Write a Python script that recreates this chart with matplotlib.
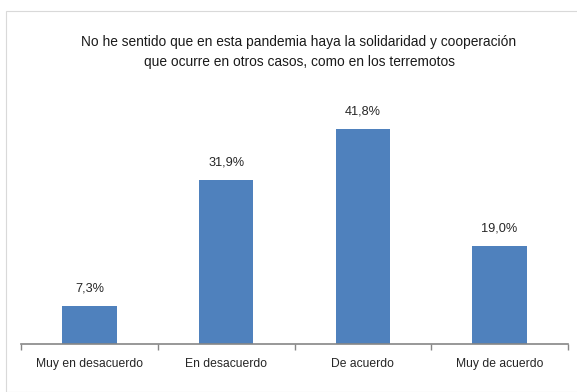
import matplotlib
matplotlib.use("Agg")
import matplotlib.pyplot as plt
from matplotlib.patches import Rectangle

categories = ["Muy en desacuerdo", "En desacuerdo", "De acuerdo", "Muy de acuerdo"]
values = [7.3, 31.9, 41.8, 19.0]
value_labels = ["7,3%", "31,9%", "41,8%", "19,0%"]
title = "No he sentido que en esta pandemia haya la solidaridad y cooperación\nque ocurre en otros casos, como en los terremotos"

plt.rcParams['font.family'] = ['Liberation Sans Narrow', 'Liberation Sans', 'DejaVu Sans']

W, H = 577, 392
fig = plt.figure(figsize=(W/100, H/100), dpi=100)
fig.patches.append(Rectangle((6/W, 0), 1, 1 - 11/H, transform=fig.transFigure,
                             fill=False, edgecolor='#d9d9d9', linewidth=0.8))

ax = fig.add_axes([21/W, 48/H, 547/W, 284/H])
x = range(len(categories))
bars = ax.bar(x, values, width=0.4, color='#4f81bd')
for xi, v, lab in zip(x, values, value_labels):
    ax.annotate(lab, (xi, v), xytext=(0, 8.5), textcoords='offset points',
                ha='center', va='bottom', fontsize=9.2, color='#262626')

ax.set_xlim(-0.5, len(categories) - 0.5)
ax.set_ylim(0, 55.25)
for s in ['top', 'right', 'left']:
    ax.spines[s].set_visible(False)
ax.spines['bottom'].set_color('#868686')
ax.spines['bottom'].set_linewidth(1.2)
ax.set_yticks([])
ax.set_xticks([i - 0.5 for i in range(len(categories) + 1)], minor=False)
ax.set_xticklabels([])
ax.tick_params(axis='x', which='major', length=4, color='#868686', width=1)
ax.set_xticks(list(x), minor=True)
ax.set_xticklabels(categories, minor=True, fontsize=8.7, color='#262626')
ax.tick_params(axis='x', which='minor', length=0, pad=10)

fig.text(299/W, 1 - 52/H, title, ha='center', va='center', fontsize=9.9,
         color='#1a1a1a', linespacing=1.55)

fig.savefig("out.png", dpi=100)
